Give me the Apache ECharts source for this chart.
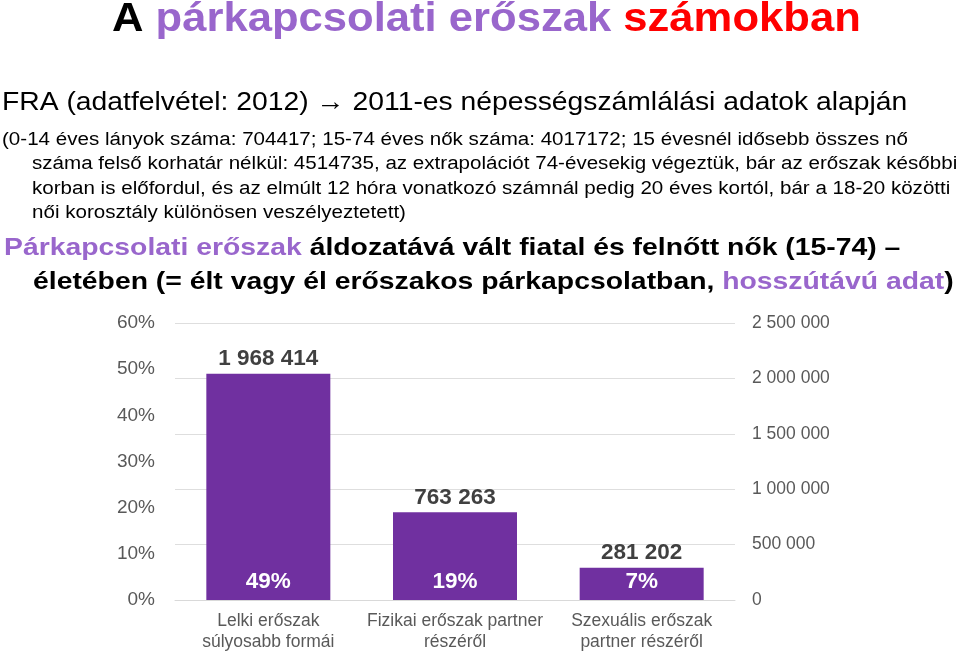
<!DOCTYPE html>
<html>
<head>
<meta charset="utf-8">
<script src="https://cdn.jsdelivr.net/npm/echarts@6/dist/echarts.min.js"></script>
<style>
html,body{margin:0;padding:0;background:#fff;}
#chart{width:960px;height:653px;}
</style>
</head>
<body>
<div id="chart"></div>
<script>
// Data
const categories = ['Lelki erőszak\nsúlyosabb formái', 'Fizikai erőszak partner\nrészéről', 'Szexuális erőszak\npartner részéről'];
const percentValues = [49, 19, 7];
const countValues = [1968414, 763263, 281202];
const leftTicks = [0, 10, 20, 30, 40, 50, 60];
const rightTicks = [0, 500000, 1000000, 1500000, 2000000, 2500000];

const FONT = "'Liberation Sans', Arial, sans-serif";
const PURPLE = '#9966CC';
const BAR = '#7030A0';

function fmtSpace(v) {
  return String(v).replace(/\B(?=(\d{3})+(?!\d))/g, ' ');
}

const chart = echarts.init(document.getElementById('chart'), null, {renderer: 'canvas'});

const paraLines = [
  {x: 2, t: '(0-14 éves lányok száma: 704417; 15-74 éves nők száma: 4017172; 15 évesnél idősebb összes nő'},
  {x: 32, t: 'száma felső korhatár nélkül: 4514735, az extrapolációt 74-évesekig végeztük, bár az erőszak későbbi'},
  {x: 32, t: 'korban is előfordul, és az elmúlt 12 hóra vonatkozó számnál pedig 20 éves kortól, bár a 18-20 közötti'},
  {x: 32, t: 'női korosztály különösen veszélyeztetett)'}
];

const graphics = [
  {
    type: 'text', x: 112, y: 0, scaleX: 1.09,
    style: {
      text: '{k|A} {p|párkapcsolati erőszak} {r|számokban}',
      rich: {
        k: {fontSize: 40, fontWeight: 'bold', fill: '#000', fontFamily: FONT},
        p: {fontSize: 40, fontWeight: 'bold', fill: PURPLE, fontFamily: FONT},
        r: {fontSize: 40, fontWeight: 'bold', fill: '#FF0000', fontFamily: FONT}
      },
      font: 'bold 40px ' + FONT
    }
  },
  {
    type: 'text', x: 2, y: 90, scaleX: 1.088,
    style: {text: 'FRA (adatfelvétel: 2012) → 2011-es népességszámlálási adatok alapján', font: '26px ' + FONT, fill: '#000'}
  }
];
paraLines.forEach((l, i) => {
  graphics.push({type: 'text', x: l.x, y: 131 + i * 24.5, scaleX: 1.143, style: {text: l.t, font: '18px ' + FONT, fill: '#000'}});
});
graphics.push({
  type: 'text', x: 4, y: 236, scaleX: 1.181,
  style: {
    text: '{p|Párkapcsolati erőszak} {b|áldozatává vált fiatal és felnőtt nők (15-74) –}',
    rich: {
      p: {fontSize: 24, fontWeight: 'bold', fill: PURPLE, fontFamily: FONT},
      b: {fontSize: 24, fontWeight: 'bold', fill: '#000', fontFamily: FONT}
    },
    font: 'bold 24px ' + FONT
  }
});
graphics.push({
  type: 'text', x: 33, y: 270, scaleX: 1.181,
  style: {
    text: '{b|életében (= élt vagy él erőszakos párkapcsolatban, }{p|hosszútávú adat}{b|)}',
    rich: {
      p: {fontSize: 24, fontWeight: 'bold', fill: PURPLE, fontFamily: FONT},
      b: {fontSize: 24, fontWeight: 'bold', fill: '#000', fontFamily: FONT}
    },
    font: 'bold 24px ' + FONT
  }
});

const option = {
  backgroundColor: '#fff',
  animation: false,
  textStyle: {fontFamily: FONT},
  graphic: graphics,
  grid: {left: 175, right: 225, top: 323, bottom: 53},
  xAxis: {
    type: 'category', data: categories,
    axisLine: {show: true, lineStyle: {color: '#d9d9d9'}},
    axisTick: {show: false},
    axisLabel: {fontSize: 17.5, lineHeight: 21, color: '#595959', margin: 11, interval: 0, fontFamily: FONT}
  },
  yAxis: [
    {
      type: 'value', position: 'left', min: leftTicks[0], max: leftTicks[leftTicks.length - 1], interval: 10,
      axisLine: {show: false}, axisTick: {show: false}, splitLine: {show: false},
      axisLabel: {formatter: '{value}%', fontSize: 19, color: '#595959', margin: 20, fontFamily: FONT}
    },
    {
      type: 'value', position: 'right', min: rightTicks[0], max: rightTicks[rightTicks.length - 1], interval: 500000,
      axisLine: {show: false}, axisTick: {show: false},
      splitLine: {show: true, lineStyle: {color: '#dedede'}},
      axisLabel: {formatter: v => fmtSpace(v), fontSize: 17.5, color: '#595959', margin: 17, fontFamily: FONT}
    }
  ],
  series: [
    {
      type: 'bar', yAxisIndex: 0, data: percentValues, barWidth: 124,
      itemStyle: {color: BAR},
      label: {
        show: true, position: 'top', distance: 3,
        formatter: p => fmtSpace(countValues[p.dataIndex]),
        fontSize: 22.5, fontWeight: 'bold', color: '#404040', fontFamily: FONT
      }
    },
    {
      type: 'bar', yAxisIndex: 0, data: percentValues, barWidth: 124, barGap: '-100%',
      itemStyle: {color: 'rgba(0,0,0,0)'},
      label: {
        show: true, position: 'insideBottom', distance: 7,
        formatter: '{c}%',
        fontSize: 22.5, fontWeight: 'bold', color: '#fff', fontFamily: FONT
      },
      silent: true
    }
  ]
};
chart.setOption(option);
</script>
</body>
</html>
